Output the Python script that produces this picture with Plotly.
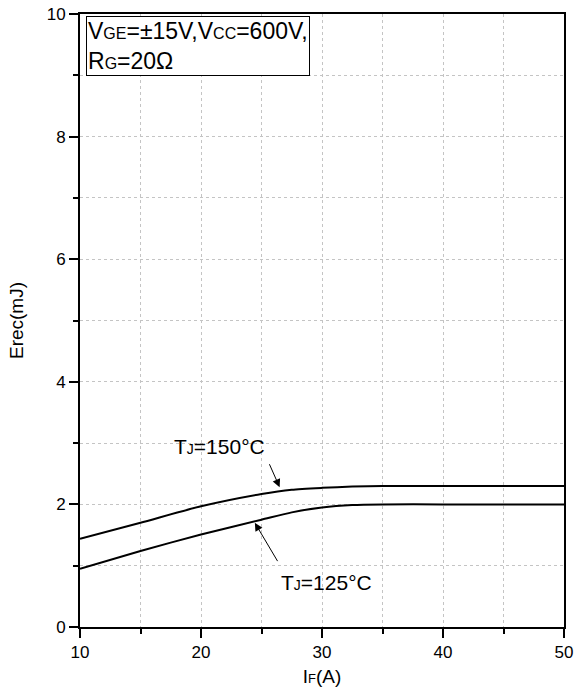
import plotly.graph_objects as go

# Forward current IF (A)
i_f = [10, 15, 20, 25, 27.5, 30, 32.5, 35, 40, 45, 50]
# Reverse recovery energy Erec (mJ)
erec_150 = [1.44, 1.70, 1.97, 2.17, 2.24, 2.27, 2.29, 2.30, 2.30, 2.30, 2.30]
erec_125 = [0.95, 1.24, 1.51, 1.75, 1.87, 1.95, 1.99, 2.00, 2.00, 2.00, 2.00]

x_ticks = [10, 20, 30, 40, 50]
y_ticks = [0, 2, 4, 6, 8, 10]

FONT = "Arial, Liberation Sans, sans-serif"


def sub(s, size=14):
    return '<span style="font-size:%dpx">%s</span>' % (size, s)


fig = go.Figure()
for ys in (erec_150, erec_125):
    fig.add_trace(go.Scatter(
        x=i_f, y=ys, mode="lines",
        line=dict(color="black", width=2, shape="spline", smoothing=0.6),
        showlegend=False, hoverinfo="skip",
    ))

GRID = "#c4c4c4"
axis_common = dict(
    showline=True, linecolor="black", linewidth=2, mirror=True,
    ticks="outside", ticklen=9, tickwidth=2, tickcolor="black",
    showgrid=True, gridcolor=GRID, gridwidth=1, griddash="dot",
    zeroline=False, automargin=False,
    tickfont=dict(family=FONT, size=17, color="black"),
)

fig.update_xaxes(
    range=[10, 50], tickvals=x_ticks, ticktext=[str(v) for v in x_ticks],
    minor=dict(dtick=5, tick0=10, ticks="outside", ticklen=5, tickwidth=2,
               tickcolor="black", showgrid=True, gridcolor=GRID,
               griddash="dot"),
    title=dict(text="I" + sub("F", 13) + "(A)", standoff=8,
               font=dict(family=FONT, size=19, color="black")),
    **axis_common,
)
fig.update_yaxes(
    range=[0, 10], tickvals=y_ticks, ticktext=[str(v) for v in y_ticks],
    minor=dict(dtick=1, tick0=0, ticks="outside", ticklen=5, tickwidth=2,
               tickcolor="black", showgrid=True, gridcolor=GRID,
               griddash="dot"),
    title=dict(text="Erec(mJ)", standoff=18,
               font=dict(family=FONT, size=19, color="black")),
    **axis_common,
)

annotations = [
    # Test conditions box
    dict(xref="paper", yref="paper", x=0.012, y=0.996,
         xanchor="left", yanchor="top", align="left", showarrow=False,
         text=("V" + sub("GE", 16) + "=±15V,V" + sub("CC", 16) + "=600V,<br>"
               "R" + sub("G", 16) + "=20Ω"),
         font=dict(family=FONT, size=23, color="black"),
         bgcolor="white", bordercolor="black", borderwidth=1, borderpad=1),
    # Curve labels
    dict(x=21.5, y=2.94, xref="x", yref="y", showarrow=False,
         text="T" + sub("J") + "=150°C",
         font=dict(family=FONT, size=21, color="black")),
    dict(x=30.4, y=0.73, xref="x", yref="y", showarrow=False,
         text="T" + sub("J") + "=125°C",
         font=dict(family=FONT, size=21, color="black")),
    # Pointer arrows
    dict(x=26.5, y=2.28, ax=25.6, ay=2.68, xref="x", yref="y",
         axref="x", ayref="y", text="", showarrow=True,
         arrowhead=2, arrowsize=1.6, arrowwidth=1, arrowcolor="black"),
    dict(x=24.45, y=1.70, ax=26.4, ay=1.05, xref="x", yref="y",
         axref="x", ayref="y", text="", showarrow=True,
         arrowhead=2, arrowsize=1.6, arrowwidth=1, arrowcolor="black"),
]

fig.update_layout(
    width=580, height=689,
    margin=dict(l=80, r=16, t=14, b=62),
    plot_bgcolor="white", paper_bgcolor="white",
    font=dict(family=FONT, color="black"),
    annotations=annotations,
)

fig.write_html("out.html")
